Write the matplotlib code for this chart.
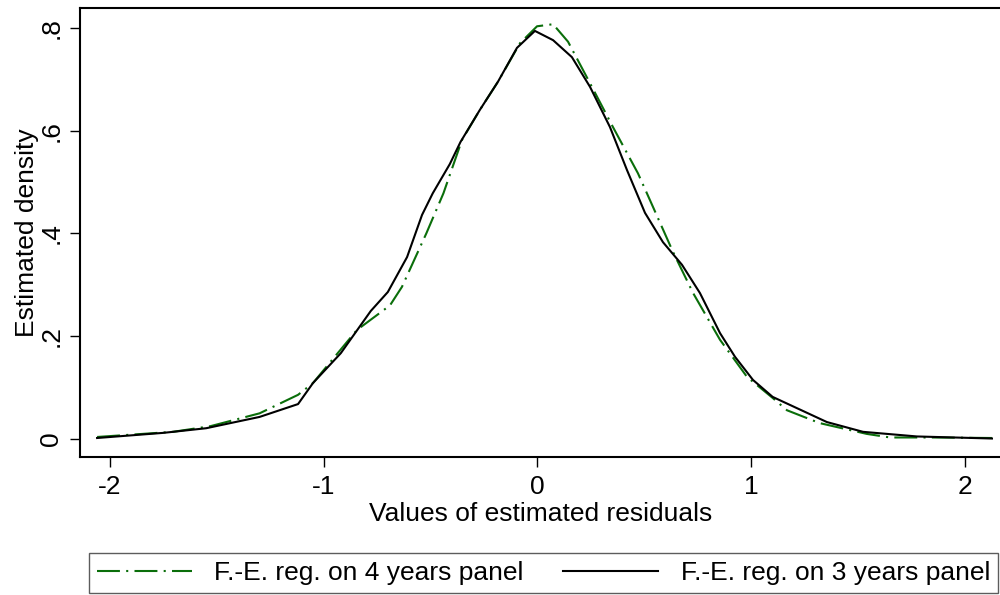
import matplotlib
matplotlib.use("Agg")
import matplotlib.pyplot as plt

plt.rcParams['font.family'] = ['Liberation Sans', 'DejaVu Sans']

# kernel density of the residuals
x_4yrs = [-2.06, -1.705, -1.53, -1.30, -1.12, -1.05, -0.845, -0.69, -0.634, -0.52,
          -0.44, -0.353, -0.27, -0.185, -0.082, -0.002, 0.073, 0.143, 0.246, 0.353,
          0.47, 0.526, 0.634, 0.728, 0.854, 0.98, 1.10, 1.167, 1.32, 1.54,
          1.65, 1.85, 2.126]
y_4yrs = [0.004, 0.014, 0.025, 0.050, 0.086, 0.109, 0.212, 0.260, 0.296, 0.400,
          0.478, 0.582, 0.640, 0.695, 0.770, 0.803, 0.807, 0.773, 0.692, 0.607,
          0.517, 0.465, 0.364, 0.284, 0.193, 0.121, 0.080, 0.056, 0.031, 0.010,
          0.003, 0.003, 0.002]

x_3yrs = [-2.06, -1.75, -1.55, -1.30, -1.12, -1.05, -0.92, -0.78, -0.70, -0.61,
          -0.54, -0.49, -0.41, -0.36, -0.27, -0.185, -0.096, -0.012, 0.073, 0.161,
          0.246, 0.339, 0.419, 0.503, 0.587, 0.676, 0.76, 0.854, 0.924, 1.008,
          1.10, 1.354, 1.523, 1.775, 2.126]
y_3yrs = [0.002, 0.012, 0.021, 0.043, 0.068, 0.109, 0.167, 0.249, 0.286, 0.354,
          0.436, 0.478, 0.535, 0.578, 0.640, 0.695, 0.761, 0.794, 0.776, 0.743,
          0.685, 0.607, 0.523, 0.440, 0.383, 0.339, 0.284, 0.206, 0.160, 0.115,
          0.082, 0.033, 0.014, 0.005, 0.001]

x_ticks = [-2, -1, 0, 1, 2]
x_tick_labels = ['-2', '-1', '0', '1', '2']
y_ticks = [0, 0.2, 0.4, 0.6, 0.8]
y_tick_labels = ['0', '.2', '.4', '.6', '.8']

fig = plt.figure(figsize=(10, 5.95), dpi=100)
ax = fig.add_axes([0.08, 0.2319, 0.922, 0.7546])

ax.plot(x_4yrs, y_4yrs, color='#0a6e0a', lw=1.5, linestyle=(0, (11, 3, 1, 3)),
        label='F.-E. reg. on 4 years panel')
ax.plot(x_3yrs, y_3yrs, color='black', lw=1.5, label='F.-E. reg. on 3 years panel')

ax.set_xlim(-2.14, 2.173)
ax.set_ylim(-0.035, 0.8385)
ax.set_xticks(x_ticks)
ax.set_xticklabels(x_tick_labels)
ax.set_yticks(y_ticks)
ax.set_yticklabels(y_tick_labels, rotation=90, va='center')
ax.tick_params(axis='x', direction='out', length=7, width=1, labelsize=19, pad=6)
ax.tick_params(axis='y', direction='out', length=7, width=1, labelsize=19, pad=5)

for s in ax.spines.values():
    s.set_linewidth(1.5)

ax.set_xlabel('Values of estimated residuals', fontsize=19, labelpad=2)
ax.set_ylabel('Estimated density', fontsize=19, labelpad=0)

fig.legend(loc='lower left', bbox_to_anchor=(0.089, 0.0034, 0.909, 0.084),
           mode='expand', ncol=2, fontsize=19, frameon=True, fancybox=False,
           edgecolor='#333333', handlelength=3.6, handletextpad=0.85,
           borderaxespad=0, borderpad=0.3)

fig.savefig('out.png', dpi=100, facecolor='white')
